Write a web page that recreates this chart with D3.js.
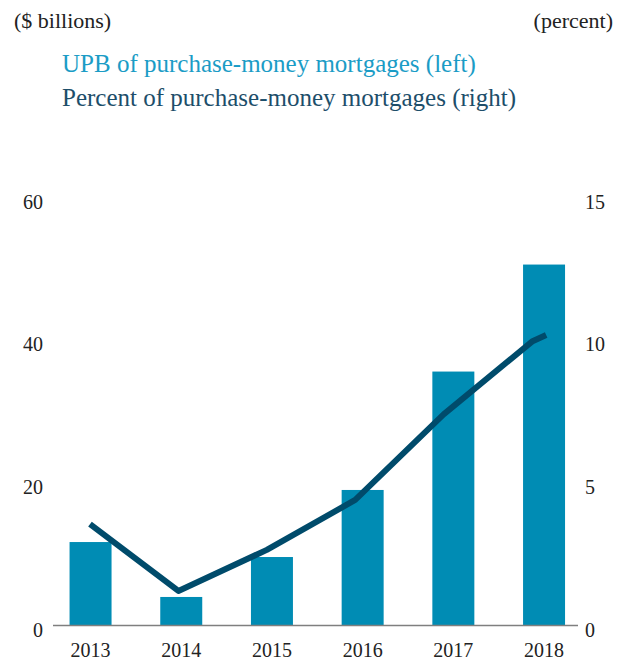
<!DOCTYPE html>
<html>
<head>
<meta charset="utf-8">
<script src="https://cdn.jsdelivr.net/npm/d3@7"></script>
<style>
  html, body { margin: 0; padding: 0; background: #fff; }
  svg { display: block; }
</style>
</head>
<body>
<svg id="chart" width="625" height="660"></svg>
<script>
// ---- data ----
const years = ["2013", "2014", "2015", "2016", "2017", "2018"];
const upbValues = [11.7, 4.0, 9.6, 19.0, 35.6, 50.6];           // $ billions (left)
const pctX = [2013, 2014, 2015, 2016, 2017, 2018, 2018.16];      // line positions
const pctValues = [3.55, 1.21, 2.65, 4.4, 7.4, 9.95, 10.18];     // percent (right)
const leftTicks = [0, 20, 40, 60];
const rightTicks = [0, 5, 10, 15];
const titleLeft = "($ billions)";
const titleRight = "(percent)";
const legendLabels = ["UPB of purchase-money mortgages (left)", "Percent of purchase-money mortgages (right)"];

// ---- styles ----
const FONT = "'Liberation Serif', 'DejaVu Serif', serif";
const barColor = "#008cb4";
const lineColor = "#004b6b";
const legendColors = ["#1b9cc6", "#1d4e6a"];

const svg = d3.select("#chart");

const y0 = 625.5, yTop = 197.5;
const yLeft = d3.scaleLinear().domain([0, 60]).range([y0, yTop]);
const yRight = d3.scaleLinear().domain([0, 15]).range([y0, yTop]);
const xBand = d3.scaleBand().domain(years).range([45.2, 589.4]).paddingInner(0.537).paddingOuter(0.2685);
const xLine = d3.scaleLinear().domain([2013, 2018]).range([90, 532]);

// titles
svg.append("text").attr("x", 14).attr("y", 28).style("font-family", FONT).attr("font-size", 22).attr("fill", "#222").text(titleLeft);
svg.append("text").attr("x", 613).attr("y", 28).attr("text-anchor", "end").style("font-family", FONT).attr("font-size", 22).attr("fill", "#222").text(titleRight);

// legend
legendLabels.forEach((t, i) => {
  svg.append("text").attr("x", 62).attr("y", 72 + i * 34).style("font-family", FONT).attr("font-size", 25)
    .attr("fill", legendColors[i]).text(t);
});

// bars
svg.append("g").selectAll("rect").data(years).join("rect")
  .attr("x", d => xBand(d))
  .attr("width", xBand.bandwidth())
  .attr("y", (d, i) => yLeft(upbValues[i]))
  .attr("height", (d, i) => y0 - yLeft(upbValues[i]))
  .attr("fill", barColor);

// baseline
svg.append("line").attr("x1", 53).attr("x2", 578).attr("y1", y0).attr("y2", y0)
  .attr("stroke", "#7f7f7f").attr("stroke-width", 1.5);

// line
const lineGen = d3.line().x((d, i) => xLine(pctX[i])).y(d => yRight(d));
svg.append("path").datum(pctValues)
  .attr("d", lineGen)
  .attr("fill", "none")
  .attr("stroke", lineColor)
  .attr("stroke-width", 6)
  .attr("stroke-linejoin", "round");

// axes
const leftAxis = svg.append("g").attr("transform", "translate(43,0)")
  .call(d3.axisLeft(yLeft).tickValues(leftTicks).tickSize(0).tickPadding(0));
const rightAxis = svg.append("g").attr("transform", "translate(585,0)")
  .call(d3.axisRight(yRight).tickValues(rightTicks).tickSize(0).tickPadding(0));
const bottomAxis = svg.append("g").attr("transform", `translate(0,${y0})`)
  .call(d3.axisBottom(xBand).tickSize(0).tickPadding(0));

[leftAxis, rightAxis, bottomAxis].forEach(g => {
  g.select(".domain").remove();
  g.attr("font-family", null);
  g.selectAll("text").style("font-family", FONT)
    .attr("font-size", 20).attr("fill", "#222");
});
leftAxis.selectAll("text").attr("dy", null).attr("y", 10.5);
rightAxis.selectAll("text").attr("dy", null).attr("y", 10.5);
bottomAxis.selectAll("text").attr("dy", null).attr("y", 31);
</script>
</body>
</html>
